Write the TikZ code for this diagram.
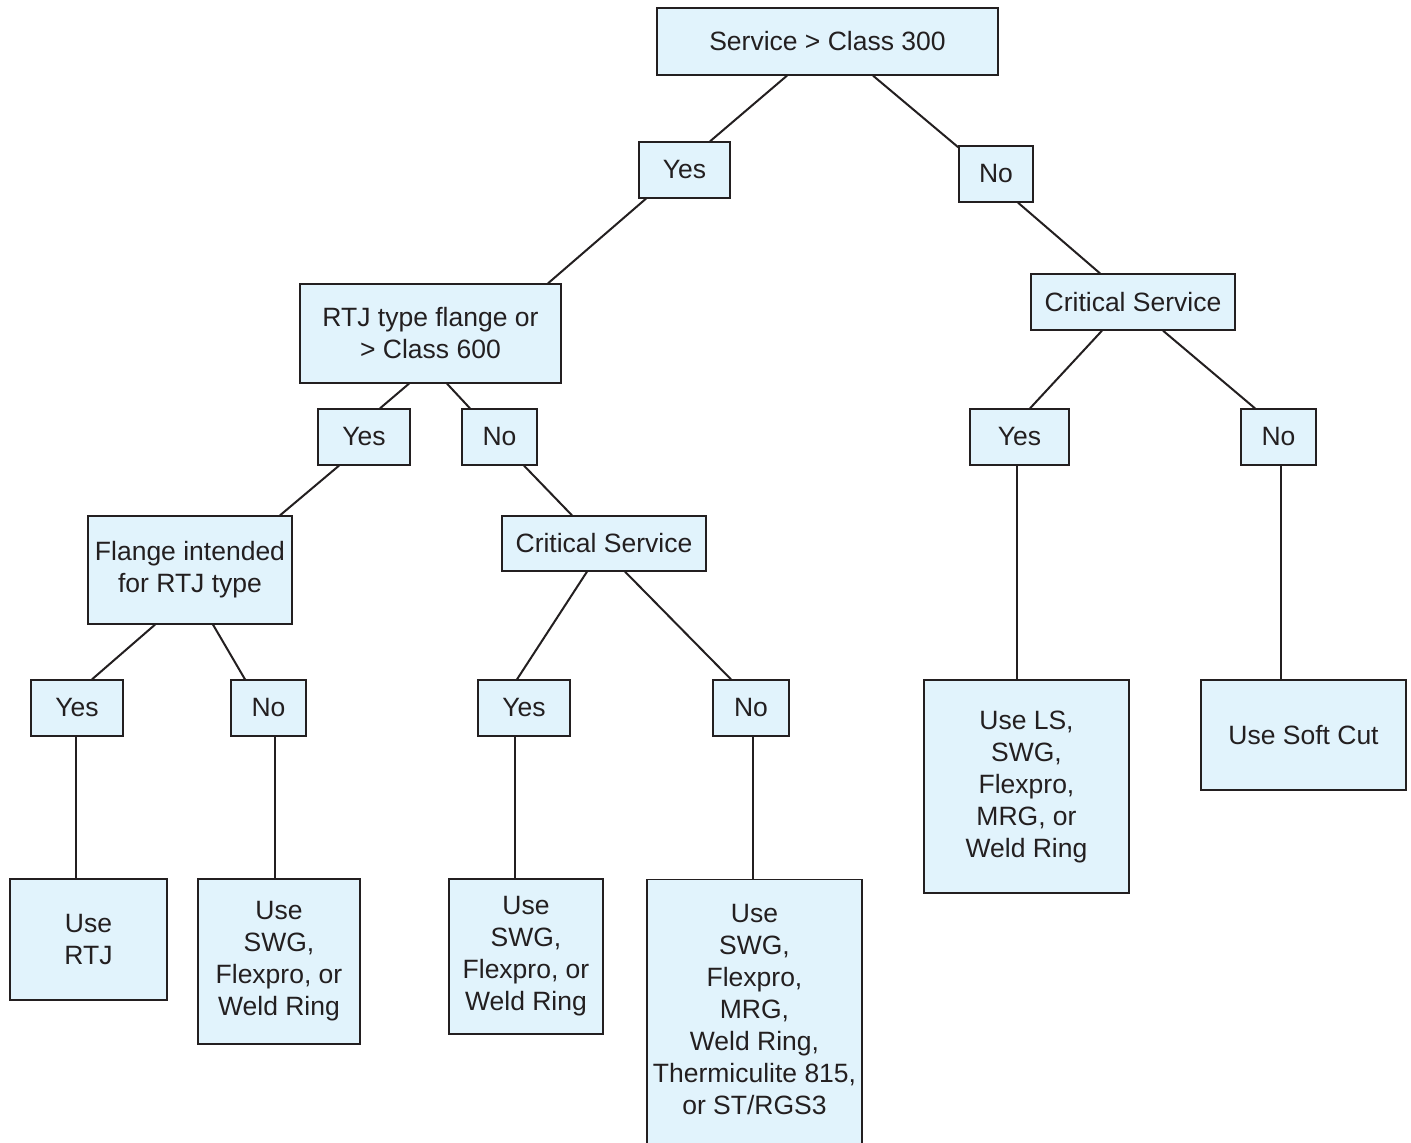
\documentclass[tikz,border=0pt]{standalone}
\usepackage{fontspec}
\setmainfont{Liberation Sans}
\definecolor{boxfill}{HTML}{E1F3FC}
\definecolor{ink}{HTML}{231F20}
\tikzset{
  txt/.style={text=ink, align=center, inner sep=0pt, font=\fontsize{26.5}{32}\selectfont},
  box/.style={txt, draw=ink, line width=1.3pt, fill=boxfill},
  link/.style={draw=ink, line width=2pt}
}
\begin{document}
\begin{tikzpicture}[x=1pt,y=-1pt]
\useasboundingbox (0,0) rectangle (1411,1143);
% level 0
\node[box, minimum width=341, minimum height=67] (top) at (827.5,41.5) {Service > Class 300};
% level 1
\node[box, minimum width=91, minimum height=56] (yes1) at (684.5,170) {Yes};
\node[box, minimum width=74, minimum height=56] (no1) at (996,174) {No};
% level 2
\node[box, minimum width=261, minimum height=99] (rtj) at (430.5,333.5) {RTJ type flange or\\> Class 600};
\node[box, minimum width=204, minimum height=56] (csr) at (1133,302) {Critical Service};
% level 3
\node[box, minimum width=92, minimum height=56] (yes2) at (364,437) {Yes};
\node[box, minimum width=75, minimum height=56] (no2) at (499.5,437) {No};
\node[box, minimum width=99, minimum height=56] (yesr) at (1019.5,437) {Yes};
\node[box, minimum width=75, minimum height=56] (nor) at (1278.5,437) {No};
% level 4
\node[box, minimum width=204, minimum height=108] (flange) at (190,570) {Flange intended\\for RTJ type};
\node[box, minimum width=204, minimum height=55] (csm) at (604,543.5) {Critical Service};
% level 5
\node[box, minimum width=92, minimum height=56] (yes3) at (77,708) {Yes};
\node[box, minimum width=75, minimum height=56] (no3) at (268.5,708) {No};
\node[box, minimum width=92, minimum height=56] (yes4) at (524,708) {Yes};
\node[box, minimum width=76, minimum height=56] (no4) at (751,708) {No};
\node[box, minimum width=205, minimum height=213] (usels) at (1026.5,786.5) {Use LS,\\SWG,\\Flexpro,\\MRG, or\\Weld Ring};
\node[box, minimum width=205, minimum height=110] (soft) at (1303.5,735) {Use Soft Cut};
% level 6
\node[box, minimum width=157, minimum height=121] (usertj) at (88.5,939.5) {Use\\RTJ};
\node[box, minimum width=162, minimum height=165] (swga) at (279,961.5) {Use\\SWG,\\Flexpro, or\\Weld Ring};
\node[box, minimum width=154, minimum height=155] (swgb) at (526,956.5) {Use\\SWG,\\Flexpro, or\\Weld Ring};
\node[box, minimum width=215, minimum height=285, anchor=north] (big) at (754.5,879) {};
\node[txt] (bigtext) at (754.5,1010) {Use\\SWG,\\Flexpro,\\MRG,\\Weld Ring,\\Thermiculite 815,\\or ST/RGS3};
% connectors
\draw[link] ([xshift=-40.5]top.south) -- ([xshift=25.5]yes1.north);
\draw[link] ([xshift=45.5]top.south) -- ([yshift=-2]no1.north west);
\draw[link] ([xshift=-38.5]yes1.south) -- ([xshift=117.5]rtj.north);
\draw[link] ([xshift=22]no1.south) -- ([xshift=-33]csr.north);
\draw[link] ([xshift=-21.5]rtj.south) -- ([xshift=16]yes2.north);
\draw[link] ([xshift=16.5]rtj.south) -- ([xshift=-29.5]no2.north);
\draw[link] ([xshift=-25]yes2.south) -- ([xshift=90]flange.north);
\draw[link] ([xshift=24.5]no2.south) -- ([xshift=-32]csm.north);
\draw[link] ([xshift=-31]csr.south) -- ([xshift=10.5]yesr.north);
\draw[link] ([xshift=30]csr.south) -- ([xshift=-23.5]nor.north);
\draw[link] ([xshift=-35]flange.south) -- ([xshift=15]yes3.north);
\draw[link] ([xshift=23]flange.south) -- ([xshift=-23.5]no3.north);
\draw[link] ([xshift=-17]csm.south) -- ([xshift=-7]yes4.north);
\draw[link] ([xshift=21]csm.south) -- ([xshift=-20]no4.north);
\draw[link] ([xshift=-1]yes3.south) -- ([xshift=-1]yes3.south |- usertj.north);
\draw[link] ([xshift=6.5]no3.south) -- ([xshift=6.5]no3.south |- swga.north);
\draw[link] ([xshift=-9]yes4.south) -- ([xshift=-9]yes4.south |- swgb.north);
\draw[link] ([xshift=2]no4.south) -- ([xshift=2]no4.south |- big.north);
\draw[link] ([xshift=-2.5]yesr.south) -- ([xshift=-2.5]yesr.south |- usels.north);
\draw[link] ([xshift=2.5]nor.south) -- ([xshift=2.5]nor.south |- soft.north);
\end{tikzpicture}
\end{document}
